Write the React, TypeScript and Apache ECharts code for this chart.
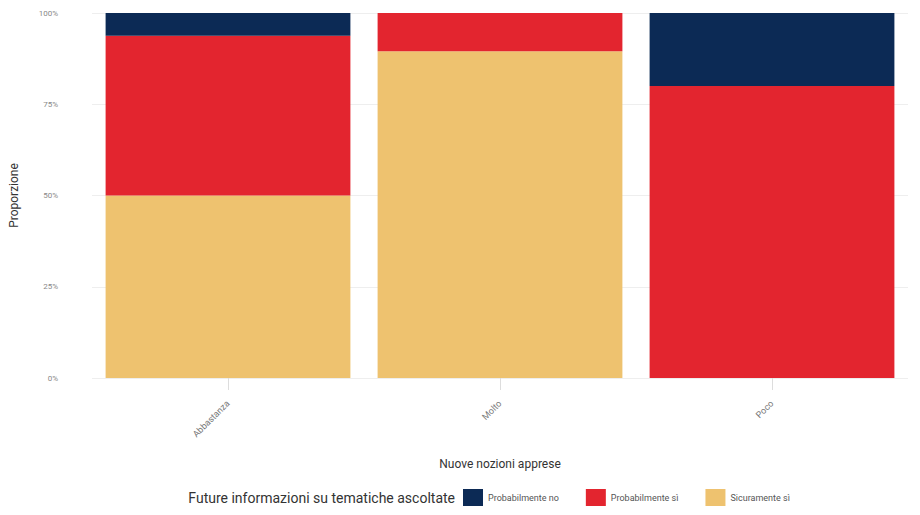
import React, { useEffect, useRef } from "react";
import * as echarts from "echarts";

const categories = ["Abbastanza", "Molto", "Poco"];
const sicuramenteSi = [50, 89.5, 0];
const probabilmenteSi = [43.75, 10.5, 80];
const probabilmenteNo = [6.25, 0, 20];
const yTicks = ["0%", "25%", "50%", "75%", "100%"];

const COLORS = {
  no: "#0c2a55",
  si: "#e3252f",
  sicuro: "#eec26f",
};

export default function App() {
  const ref = useRef<HTMLDivElement>(null);
  useEffect(() => {
    const chart = echarts.init(ref.current!, null, { renderer: "svg" });
    const font = "Roboto, 'Liberation Sans', sans-serif";
    chart.setOption({
      animation: false,
      textStyle: { fontFamily: font },
      grid: { left: 89, right: 12, top: 13, bottom: 137, containLabel: false },
      legend: {
        data: ["Probabilmente no", "Probabilmente sì", "Sicuramente sì"],
        bottom: 4,
        left: 458,
        itemWidth: 20,
        itemHeight: 17,
        itemGap: 27,
        icon: "rect",
        textStyle: { fontSize: 9, color: "#555", fontFamily: font },
      },
      graphic: [
        {
          type: "text",
          right: 920 - 455,
          bottom: 10,
          style: {
            text: "Future informazioni su tematiche ascoltate",
            fontSize: 14,
            fill: "#333",
            fontFamily: font,
          },
        },
      ],
      xAxis: {
        type: "category",
        data: categories,
        name: "Nuove nozioni apprese",
        nameLocation: "middle",
        nameGap: 80,
        nameTextStyle: { fontSize: 12, color: "#333" },
        axisLine: { show: false },
        axisTick: { show: true, alignWithLabel: true, lineStyle: { color: "#ddd" }, length: 12 },
        axisLabel: { rotate: 45, fontSize: 9, color: "#777", margin: 24 },
        splitLine: { show: false },
      },
      yAxis: {
        type: "value",
        min: 0,
        max: 100,
        interval: 25,
        name: "Proporzione",
        nameLocation: "middle",
        nameGap: 72,
        nameTextStyle: { fontSize: 12, color: "#333" },
        axisLabel: {
          fontSize: 8,
          color: "#888",
          margin: 34,
          formatter: (v: number) => yTicks[Math.round(v / 25)],
        },
        splitLine: { lineStyle: { color: "#eeeeee", width: 1 } },
        axisLine: { show: false },
        axisTick: { show: false },
      },
      series: [
        {
          name: "Sicuramente sì",
          type: "bar",
          stack: "total",
          barWidth: "90%",
          data: sicuramenteSi,
          itemStyle: { color: COLORS.sicuro },
        },
        {
          name: "Probabilmente sì",
          type: "bar",
          stack: "total",
          barWidth: "90%",
          data: probabilmenteSi,
          itemStyle: { color: COLORS.si },
        },
        {
          name: "Probabilmente no",
          type: "bar",
          stack: "total",
          barWidth: "90%",
          data: probabilmenteNo,
          itemStyle: { color: COLORS.no },
        },
      ],
    });
    return () => chart.dispose();
  }, []);
  return <div ref={ref} style={{ width: 920, height: 515, position: "absolute", left: 0, top: 0 }} />;
}
